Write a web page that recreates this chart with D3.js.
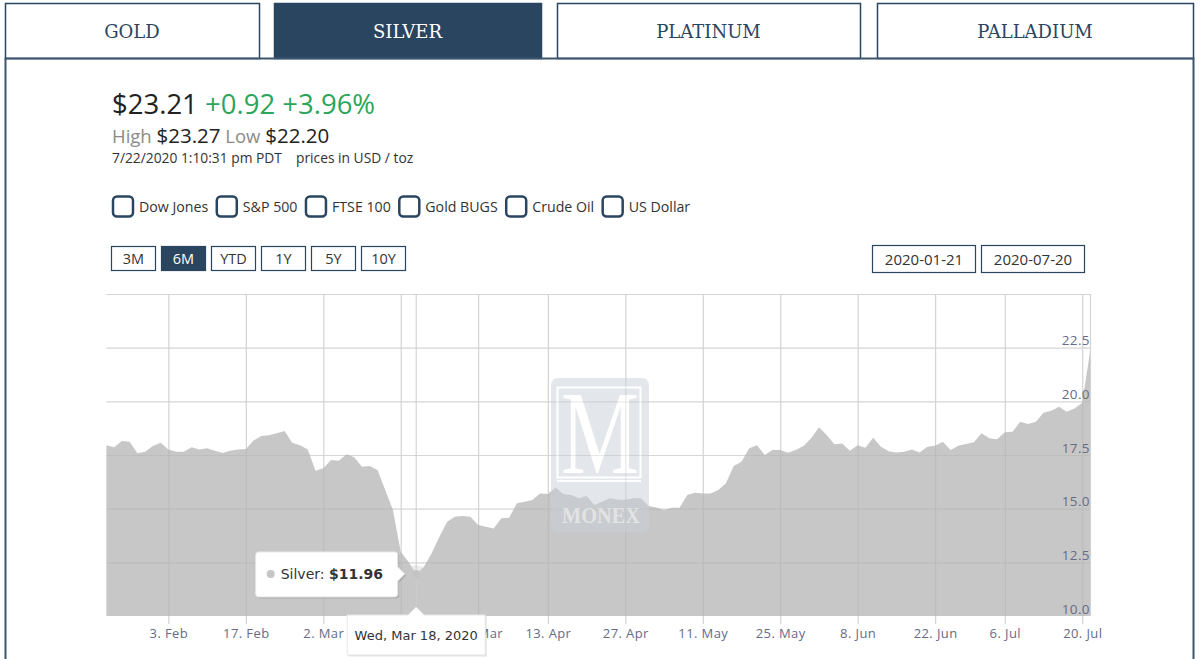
<!DOCTYPE html>
<html>
<head>
<meta charset="utf-8">
<title>Silver spot price - 6M</title>
<script src="https://d3js.org/d3.v7.min.js"></script>
<style>
    body { margin: 0; background: #fff; }
    svg text { font-family: "Open Sans", sans-serif; }
</style>
</head>
<body>
<div id="chart"></div>
<script>
    // trading days on the 6M view, day of month for each month of 2020
    var janDays = [22,23,24,27,28,29,30,31];
    var febDays = [3,4,5,6,7,10,11,12,13,14,17,18,19,20,21,24,25,26,27,28];
    var marDays = [2,3,4,5,6,9,10,11,12,13,16,17,18,19,20,23,24,25,26,27,30,31];
    var aprDays = [1,2,3,6,7,8,9,13,14,15,16,17,20,21,22,23,24,27,28,29,30];
    var mayDays = [1,4,5,6,7,8,11,12,13,14,15,18,19,20,21,22,25,26,27,28,29];
    var junDays = [1,2,3,4,5,8,9,10,11,12,15,16,17,18,19,22,23,24,25,26,29,30];
    var julDays = [1,2,6,7,8,9,10,13,14,15,16,17,20,21];

    // silver close, USD / toz
    var silver = [
        17.96,17.86,18.15,18.12,17.58,17.65,17.92,18.07,
        17.76,17.65,17.65,17.86,17.76,17.81,17.70,17.59,17.70,17.76,17.78,18.17,18.38,18.42,18.51,18.62,18.07,17.96,17.76,16.77,
        16.88,17.27,17.23,17.53,17.39,16.95,16.99,16.80,15.87,14.94,12.99,12.53,11.96,12.30,12.92,13.69,14.39,14.62,14.66,14.62,14.24,14.16,
        14.08,14.55,14.58,15.25,15.32,15.40,15.71,15.68,15.99,15.68,15.64,15.48,15.59,15.17,15.32,15.48,15.43,15.40,15.48,15.48,15.12,
        15.06,14.94,15.04,15.04,15.64,15.74,15.71,15.71,15.87,16.18,16.99,17.19,17.81,17.96,17.50,17.73,17.73,17.61,17.73,17.92,18.28,
        18.79,18.43,18.00,18.04,17.70,17.96,17.84,18.30,17.88,17.68,17.62,17.65,17.76,17.62,17.88,17.93,18.12,17.73,17.93,18.01,18.09,18.51,
        18.28,18.23,18.56,18.58,19.05,18.94,19.05,19.47,19.56,19.75,19.52,19.67,19.93,22.29
    ];

    var xTickDates = ["2020-02-03","2020-02-17","2020-03-02","2020-03-16","2020-03-30","2020-04-13","2020-04-27",
                      "2020-05-11","2020-05-25","2020-06-08","2020-06-22","2020-07-06","2020-07-20"];
    var yTicks = [10, 12.5, 15, 17.5, 20, 22.5];
    var yGrid = [12.5, 15, 17.5, 20, 22.5, 25];

    var metals = ["GOLD", "SILVER", "PLATINUM", "PALLADIUM"];
    var compare = ["Dow Jones", "S&P 500", "FTSE 100", "Gold BUGS", "Crude Oil", "US Dollar"];
    var ranges = ["3M", "6M", "YTD", "1Y", "5Y", "10Y"];
    var rangeDates = ["2020-01-21", "2020-07-20"];
    var hoverDate = "2020-03-18";

    var navy = "#2a4560";

    var months = [["01", janDays], ["02", febDays], ["03", marDays], ["04", aprDays],
                  ["05", mayDays], ["06", junDays], ["07", julDays]];
    var dates = [];
    months.forEach(function(m) {
        m[1].forEach(function(d) { dates.push("2020-" + m[0] + "-" + (d < 10 ? "0" + d : d)); });
    });
    var data = dates.map(function(d, i) { return {date: d, price: silver[i]}; });

    var parse = d3.timeParse("%Y-%m-%d");

    var svg = d3.select("#chart").append("svg")
        .attr("width", 1200)
        .attr("height", 659);

    // ---- tabs + panel
    var tabBox = [[5, 254], [274, 267], [557, 303], [877, 316]];
    metals.forEach(function(t, i) {
        var sel = t == "SILVER";
        svg.append("rect")
            .attr("x", tabBox[i][0] + 0.5).attr("y", 3.5)
            .attr("width", tabBox[i][1]).attr("height", 55)
            .attr("fill", sel ? navy : "#fff")
            .attr("stroke", navy).attr("stroke-width", 1.5);
        svg.append("text")
            .attr("x", tabBox[i][0] + tabBox[i][1] / 2).attr("y", 31)
            .attr("text-anchor", "middle").attr("dominant-baseline", "central")
            .style("font-family", "DejaVu Serif").style("font-size", "18px")
            .attr("fill", sel ? "#fff" : navy)
            .text(t);
    });
    svg.append("path")
        .attr("d", "M5.5,659 V58.5 H1193.5 V659")
        .attr("fill", "none").attr("stroke", "#3d566f").attr("stroke-width", 2);

    // ---- price header
    var h1 = svg.append("text").attr("x", 112).attr("y", 114).style("font-size", "27.5px");
    h1.append("tspan").attr("fill", "#222").text("$23.21");
    h1.append("tspan").attr("fill", "#2ba55a").text(" +0.92 +3.96%");

    var h2 = svg.append("text").attr("x", 112).attr("y", 143);
    h2.append("tspan").attr("fill", "#8a8a8a").style("font-size", "18.5px").text("High ");
    h2.append("tspan").attr("fill", "#222").style("font-size", "20.5px").text("$23.27");
    h2.append("tspan").attr("fill", "#8a8a8a").style("font-size", "18.5px").text(" Low ");
    h2.append("tspan").attr("fill", "#222").style("font-size", "20.5px").text("$22.20");

    svg.append("text").attr("x", 112).attr("y", 162.5).attr("fill", "#333")
        .style("font-size", "13.8px").text("7/22/2020 1:10:31 pm PDT");
    svg.append("text").attr("x", 296).attr("y", 162.5).attr("fill", "#333")
        .style("font-size", "13.8px").text("prices in USD / toz");

    // ---- compare checkboxes
    var cx = 112;
    compare.forEach(function(c) {
        svg.append("rect")
            .attr("x", cx + 1).attr("y", 196.5).attr("width", 20).attr("height", 20)
            .attr("rx", 4).attr("fill", "#fff")
            .attr("stroke", navy).attr("stroke-width", 2.5);
        var t = svg.append("text").attr("x", cx + 27).attr("y", 212)
            .attr("fill", "#333").style("font-size", "14.2px").text(c);
        cx = cx + 27 + t.node().getComputedTextLength() + 7.5;
    });

    // ---- range buttons
    ranges.forEach(function(r, i) {
        var sel = r == "6M";
        svg.append("rect")
            .attr("x", 111.5 + i * 50).attr("y", 246.5).attr("width", 44).attr("height", 24)
            .attr("fill", sel ? navy : "#fff").attr("stroke", navy).attr("stroke-width", 1.2);
        svg.append("text")
            .attr("x", 133.5 + i * 50).attr("y", 264)
            .attr("text-anchor", "middle")
            .attr("fill", sel ? "#fff" : "#333").style("font-size", "14.5px")
            .text(r);
    });
    rangeDates.forEach(function(d, i) {
        var bx = [872.5, 981.5][i];
        svg.append("rect")
            .attr("x", bx).attr("y", 245.5).attr("width", 103).attr("height", 27)
            .attr("fill", "#fff").attr("stroke", navy).attr("stroke-width", 1.2);
        svg.append("text")
            .attr("x", bx + 51.5).attr("y", 265)
            .attr("text-anchor", "middle").attr("fill", "#333")
            .style("font-size", "15px").text(d);
    });

    // ---- chart
    var x = d3.scalePoint().domain(dates).range([106.4, 1090]);
    var y = d3.scaleLinear().domain([10, 25]).range([616, 294]);

    svg.append("g")
        .selectAll("line")
        .data(yGrid)
        .enter().append("line")
        .attr("x1", 106.4).attr("x2", 1090)
        .attr("y1", function(d) { return y(d) + 0.5; })
        .attr("y2", function(d) { return y(d) + 0.5; })
        .attr("stroke", "#d6d6d6").attr("stroke-width", 1.2);

    var xAxis = svg.append("g")
        .attr("transform", "translate(0,294)")
        .call(d3.axisBottom(x)
            .tickValues(xTickDates)
            .tickSize(330)
            .tickPadding(5)
            .tickFormat(function(d) { return d3.timeFormat("%-d. %b")(parse(d)); }));
    xAxis.select(".domain").remove();
    xAxis.selectAll("line").attr("stroke", "#d3d3d3").attr("stroke-width", 1.2);
    xAxis.selectAll("text")
        .attr("fill", "#676b85")
        .style("font-family", "Open Sans")
        .style("font-size", "13px")
        .style("letter-spacing", "0.4px");

    svg.append("line")
        .attr("x1", 1090.5).attr("x2", 1090.5).attr("y1", 294).attr("y2", 616)
        .attr("stroke", "#d3d3d3").attr("stroke-width", 1.2);

    svg.append("path")
        .datum(data)
        .attr("fill", "#b4b4b4")
        .attr("fill-opacity", 0.74)
        .attr("d", d3.area()
            .x(function(d) { return x(d.date); })
            .y0(y(10))
            .y1(function(d) { return y(d.price); }));

    var yAxis = svg.append("g")
        .attr("transform", "translate(1091,0)")
        .call(d3.axisLeft(y)
            .tickValues(yTicks)
            .tickSize(0)
            .tickPadding(1)
            .tickFormat(d3.format(".1f")));
    yAxis.select(".domain").remove();
    yAxis.selectAll("text")
        .attr("dy", null).attr("y", -3)
        .attr("fill", "#676b85")
        .style("font-family", "Open Sans")
        .style("font-size", "13.5px")
        .style("letter-spacing", "0.4px");

    // watermark
    var wm = svg.append("g").attr("opacity", 0.5);
    wm.append("rect").attr("x", 551).attr("y", 378).attr("width", 98).attr("height", 154)
        .attr("rx", 7).attr("fill", "#c9d1d9");
    wm.append("rect").attr("x", 557.5).attr("y", 387.5).attr("width", 83).attr("height", 90)
        .attr("fill", "none").attr("stroke", "#fff").attr("stroke-width", 2);
    wm.append("line").attr("x1", 557).attr("x2", 641).attr("y1", 481).attr("y2", 481)
        .attr("stroke", "#fff").attr("stroke-width", 2);
    wm.append("text").attr("x", 561).attr("y", 473)
        .attr("textLength", 78).attr("lengthAdjust", "spacingAndGlyphs")
        .style("font-family", "Liberation Serif").style("font-size", "118px")
        .attr("fill", "#fff").text("M");
    wm.append("text").attr("x", 562).attr("y", 523)
        .attr("textLength", 78).attr("lengthAdjust", "spacingAndGlyphs")
        .style("font-family", "Liberation Serif").style("font-size", "24px").style("font-weight", "bold")
        .attr("fill", "#fff").text("MONEX");

    // hover state
    var hi = dates.indexOf(hoverDate);
    var px = x(hoverDate), py = y(silver[hi]);
    svg.append("line")
        .attr("x1", px).attr("x2", px).attr("y1", 294).attr("y2", 616)
        .attr("stroke", "#cccccc").attr("stroke-width", 1);
    svg.append("circle").attr("cx", px).attr("cy", py).attr("r", 9)
        .attr("fill", "#c8c8c8").attr("opacity", 0.35);
    svg.append("circle").attr("cx", px).attr("cy", py).attr("r", 4)
        .attr("fill", "#c4c4c4");

    // value tooltip
    var r = px - 18.5, l = r - 142, t = py - 22, b = py + 23;
    var tip = "M" + (l + 3) + "," + t + " H" + (r - 3) + " Q" + r + "," + t + " " + r + "," + (t + 3) +
        " V" + (py - 7) + " L" + (px - 11.5) + "," + py + " L" + r + "," + (py + 7) +
        " V" + (b - 3) + " Q" + r + "," + b + " " + (r - 3) + "," + b + " H" + (l + 3) +
        " Q" + l + "," + b + " " + l + "," + (b - 3) + " V" + (t + 3) + " Q" + l + "," + t + " " + (l + 3) + "," + t + " Z";
    svg.append("path").attr("d", tip).attr("transform", "translate(1.5,1.5)")
        .attr("fill", "#000").attr("opacity", 0.12);
    svg.append("path").attr("d", tip).attr("fill", "#fff")
        .attr("stroke", "#e6e6e6").attr("stroke-width", 1);
    svg.append("circle").attr("cx", l + 15).attr("cy", py).attr("r", 4).attr("fill", "#c6c6c6");
    var tt = svg.append("text").attr("x", l + 25).attr("y", py + 5)
        .attr("fill", "#333").style("font-family", "DejaVu Sans").style("font-size", "14px");
    tt.append("tspan").text("Silver: ");
    tt.append("tspan").style("font-weight", "bold").text("$" + silver[hi].toFixed(2));

    // date tooltip under the axis
    var dl = px - 69, dr = px + 69, dt = 615, db = 655;
    var dtip = "M" + dl + "," + dt + " H" + (px - 8) + " L" + px + "," + (dt - 8) + " L" + (px + 8) + "," + dt +
        " H" + dr + " V" + db + " H" + dl + " Z";
    svg.append("path").attr("d", dtip).attr("transform", "translate(1.5,1.5)")
        .attr("fill", "#000").attr("opacity", 0.12);
    svg.append("path").attr("d", dtip).attr("fill", "#fff")
        .attr("stroke", "#e6e6e6").attr("stroke-width", 1);
    svg.append("text").attr("x", px).attr("y", 640)
        .attr("text-anchor", "middle").attr("fill", "#333")
        .style("font-family", "DejaVu Sans").style("font-size", "13px")
        .text(d3.timeFormat("%a, %b %-d, %Y")(parse(hoverDate)));
</script>
</body>
</html>
